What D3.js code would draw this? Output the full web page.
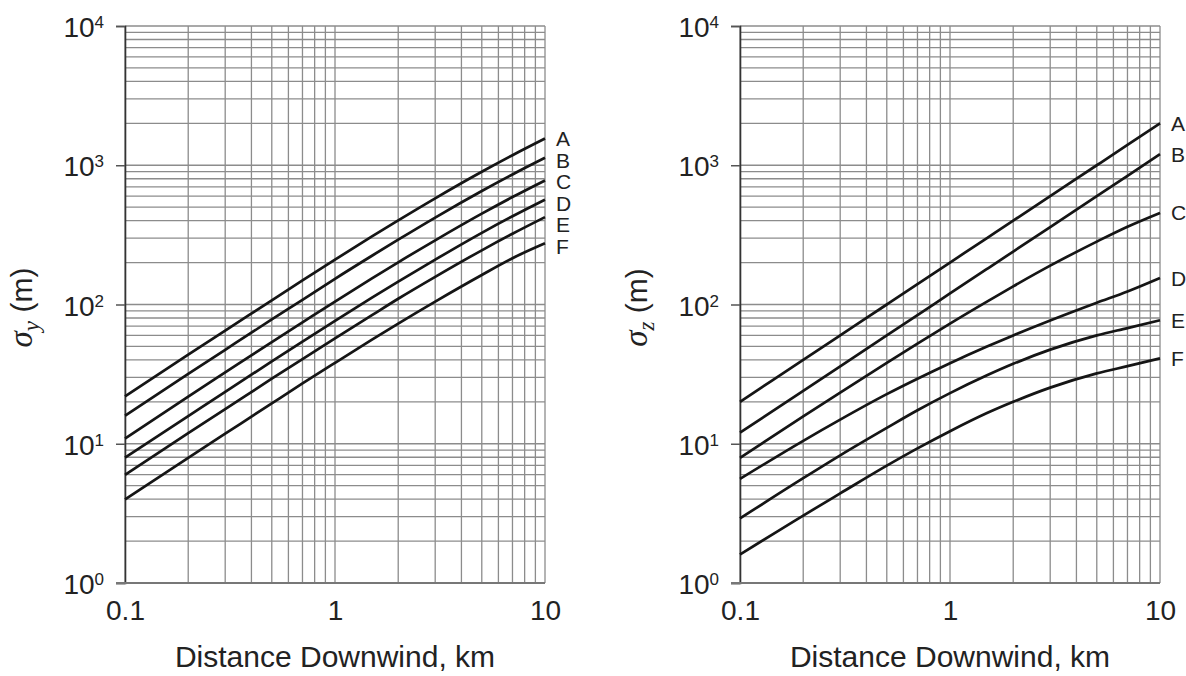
<!DOCTYPE html>
<html>
<head>
<meta charset="utf-8">
<script src="https://cdn.jsdelivr.net/npm/d3@7"></script>
<style>
  body { margin: 0; background: #fff; }
  svg text { font-family: "Liberation Sans", Arial, Helvetica, sans-serif; fill: #222; }
</style>
</head>
<body>
<svg id="chart" width="1186" height="676"></svg>
<script>
const distanceKm = [0.1, 0.2, 0.3, 0.5, 0.7, 1, 1.5, 2, 3, 5, 7, 10];
const stabilityClasses = ["A", "B", "C", "D", "E", "F"];

// sigma y (m), one array per stability class
const sigmaYA = [21.9, 43.6, 65.0, 107, 149, 210, 308, 402, 579, 898, 1181, 1556];
const sigmaYB = [15.9, 31.7, 47.3, 78.1, 108, 153, 224, 292, 421, 653, 859, 1131];
const sigmaYC = [10.9, 21.8, 32.5, 53.7, 74.4, 105, 154, 201, 289, 449, 591, 778];
const sigmaYD = [7.96, 15.8, 23.6, 39.0, 54.1, 76.3, 112, 146, 210, 327, 430, 566];
const sigmaYE = [5.97, 11.9, 17.7, 29.3, 40.6, 57.2, 83.9, 110, 158, 245, 322, 424];
const sigmaYF = [3.98, 7.92, 11.8, 19.5, 27.1, 38.1, 55.9, 73.0, 105, 163, 215, 275];

// sigma z (m)
const sigmaZA = [20.0, 40.0, 60.0, 100, 140, 200, 300, 400, 600, 1000, 1400, 2000];
const sigmaZB = [12.0, 24.0, 36.0, 60.0, 84.0, 120, 180, 240, 360, 600, 840, 1200];
const sigmaZC = [7.92, 15.7, 23.3, 38.1, 52.4, 73.0, 105, 135, 190, 283, 362, 455];
const sigmaZD = [5.59, 10.5, 14.9, 22.7, 29.3, 37.9, 49.9, 60.0, 76.8, 103, 124, 155];
const sigmaZE = [2.91, 5.66, 8.26, 13.0, 17.4, 23.1, 31.0, 37.5, 47.4, 60.0, 67.7, 77.0];
const sigmaZF = [1.60, 3.05, 4.40, 6.96, 9.26, 12.3, 16.6, 20.0, 25.3, 32.0, 36.1, 41.0];

const xTickValues = [0.1, 1, 10];
const yTickValues = [1, 10, 100, 1000, 10000];
const yTickExponents = ["0", "1", "2", "3", "4"];
const xAxisTitle = "Distance Downwind, km";

const svg = d3.select("#chart");
const plotTop = 26, plotBottom = 583;

function drawPanel(left, right, seriesList, subscript) {
  const x = d3.scaleLog().domain([0.1, 10]).range([left, right]);
  const y = d3.scaleLog().domain([1, 10000]).range([plotBottom, plotTop]);
  const g = svg.append("g");

  // grid lines
  const xGrid = [];
  [0.1, 1].forEach(e => d3.range(1, 10).forEach(m => xGrid.push(m * e)));
  xGrid.push(10);
  const yGrid = [];
  [1, 10, 100, 1000].forEach(e => d3.range(1, 10).forEach(m => yGrid.push(m * e)));
  yGrid.push(10000);

  g.selectAll(".vgrid")
    .data(xGrid)
    .join("line")
    .attr("x1", d => x(d)).attr("x2", d => x(d))
    .attr("y1", plotTop).attr("y2", plotBottom)
    .attr("stroke", "#8c8c8c")
    .attr("stroke-width", 1.3);

  g.selectAll(".hgrid")
    .data(yGrid)
    .join("line")
    .attr("x1", left).attr("x2", right)
    .attr("y1", d => y(d)).attr("y2", d => y(d))
    .attr("stroke", "#8c8c8c")
    .attr("stroke-width", 1.3);

  // y axis with ticks and 10^n labels
  const yAxis = g.append("g")
    .attr("transform", `translate(${left},0)`)
    .call(d3.axisLeft(y).tickValues(yTickValues).tickSize(9).tickPadding(12).tickFormat(""));
  yAxis.select(".domain").attr("stroke", "#333").attr("stroke-width", 1.6);
  yAxis.selectAll(".tick line").attr("stroke", "#555").attr("stroke-width", 1.5);
  yAxis.selectAll(".tick text")
    .attr("dy", 10.5)
    .style("font-size", "28px")
    .each(function(d, i) {
      const t = d3.select(this);
      t.append("tspan").text("10");
      t.append("tspan").attr("dy", -9).style("font-size", "17px").text(yTickExponents[i]);
    });

  // bottom axis
  const xAxis = g.append("g")
    .attr("transform", `translate(0,${plotBottom})`)
    .call(d3.axisBottom(x).tickValues(xTickValues).tickSize(0).tickPadding(17).tickFormat(d3.format("")));
  xAxis.select(".domain").remove();
  xAxis.selectAll(".tick text").style("font-size", "28px");
  g.append("line")
    .attr("x1", left - 9).attr("x2", right)
    .attr("y1", plotBottom).attr("y2", plotBottom)
    .attr("stroke", "#777")
    .attr("stroke-width", 2.2);

  // curves
  const line = d3.line()
    .x((d, i) => x(distanceKm[i]))
    .y(d => y(d))
    .curve(d3.curveMonotoneX);

  g.selectAll(".curve")
    .data(seriesList)
    .join("path")
    .attr("fill", "none")
    .attr("stroke", "#151515")
    .attr("stroke-width", 2.7)
    .attr("d", d => line(d));

  // class labels at the right end, pushed apart so they do not overlap
  let prev = -Infinity;
  const labelY = seriesList.map(s => {
    const v = Math.max(y(s[s.length - 1]), prev + 21.5);
    prev = v;
    return v;
  });
  g.selectAll(".cls")
    .data(stabilityClasses)
    .join("text")
    .attr("x", right + 11)
    .attr("y", (d, i) => labelY[i])
    .attr("dy", "0.36em")
    .style("font-size", "21px")
    .text(d => d);

  // axis titles
  g.append("text")
    .attr("x", (left + right) / 2)
    .attr("y", 667)
    .attr("text-anchor", "middle")
    .style("font-size", "30px")
    .text(xAxisTitle);

  const yt = g.append("text")
    .attr("transform", `translate(${left - 93},${(plotTop + plotBottom) / 2 + 3}) rotate(-90)`)
    .attr("text-anchor", "middle")
    .style("font-size", "30px");
  yt.append("tspan")
    .style("font-family", "'Liberation Serif', 'Times New Roman', serif")
    .style("font-style", "italic")
    .style("font-size", "33px")
    .text("σ");
  yt.append("tspan")
    .attr("dy", 7)
    .style("font-family", "'Liberation Serif', 'Times New Roman', serif")
    .style("font-style", "italic")
    .style("font-size", "23px")
    .text(subscript);
  yt.append("tspan")
    .attr("dy", -7)
    .text(" (m)");
}

drawPanel(125, 545, [sigmaYA, sigmaYB, sigmaYC, sigmaYD, sigmaYE, sigmaYF], "y");
drawPanel(740, 1160, [sigmaZA, sigmaZB, sigmaZC, sigmaZD, sigmaZE, sigmaZF], "z");
</script>
</body>
</html>
